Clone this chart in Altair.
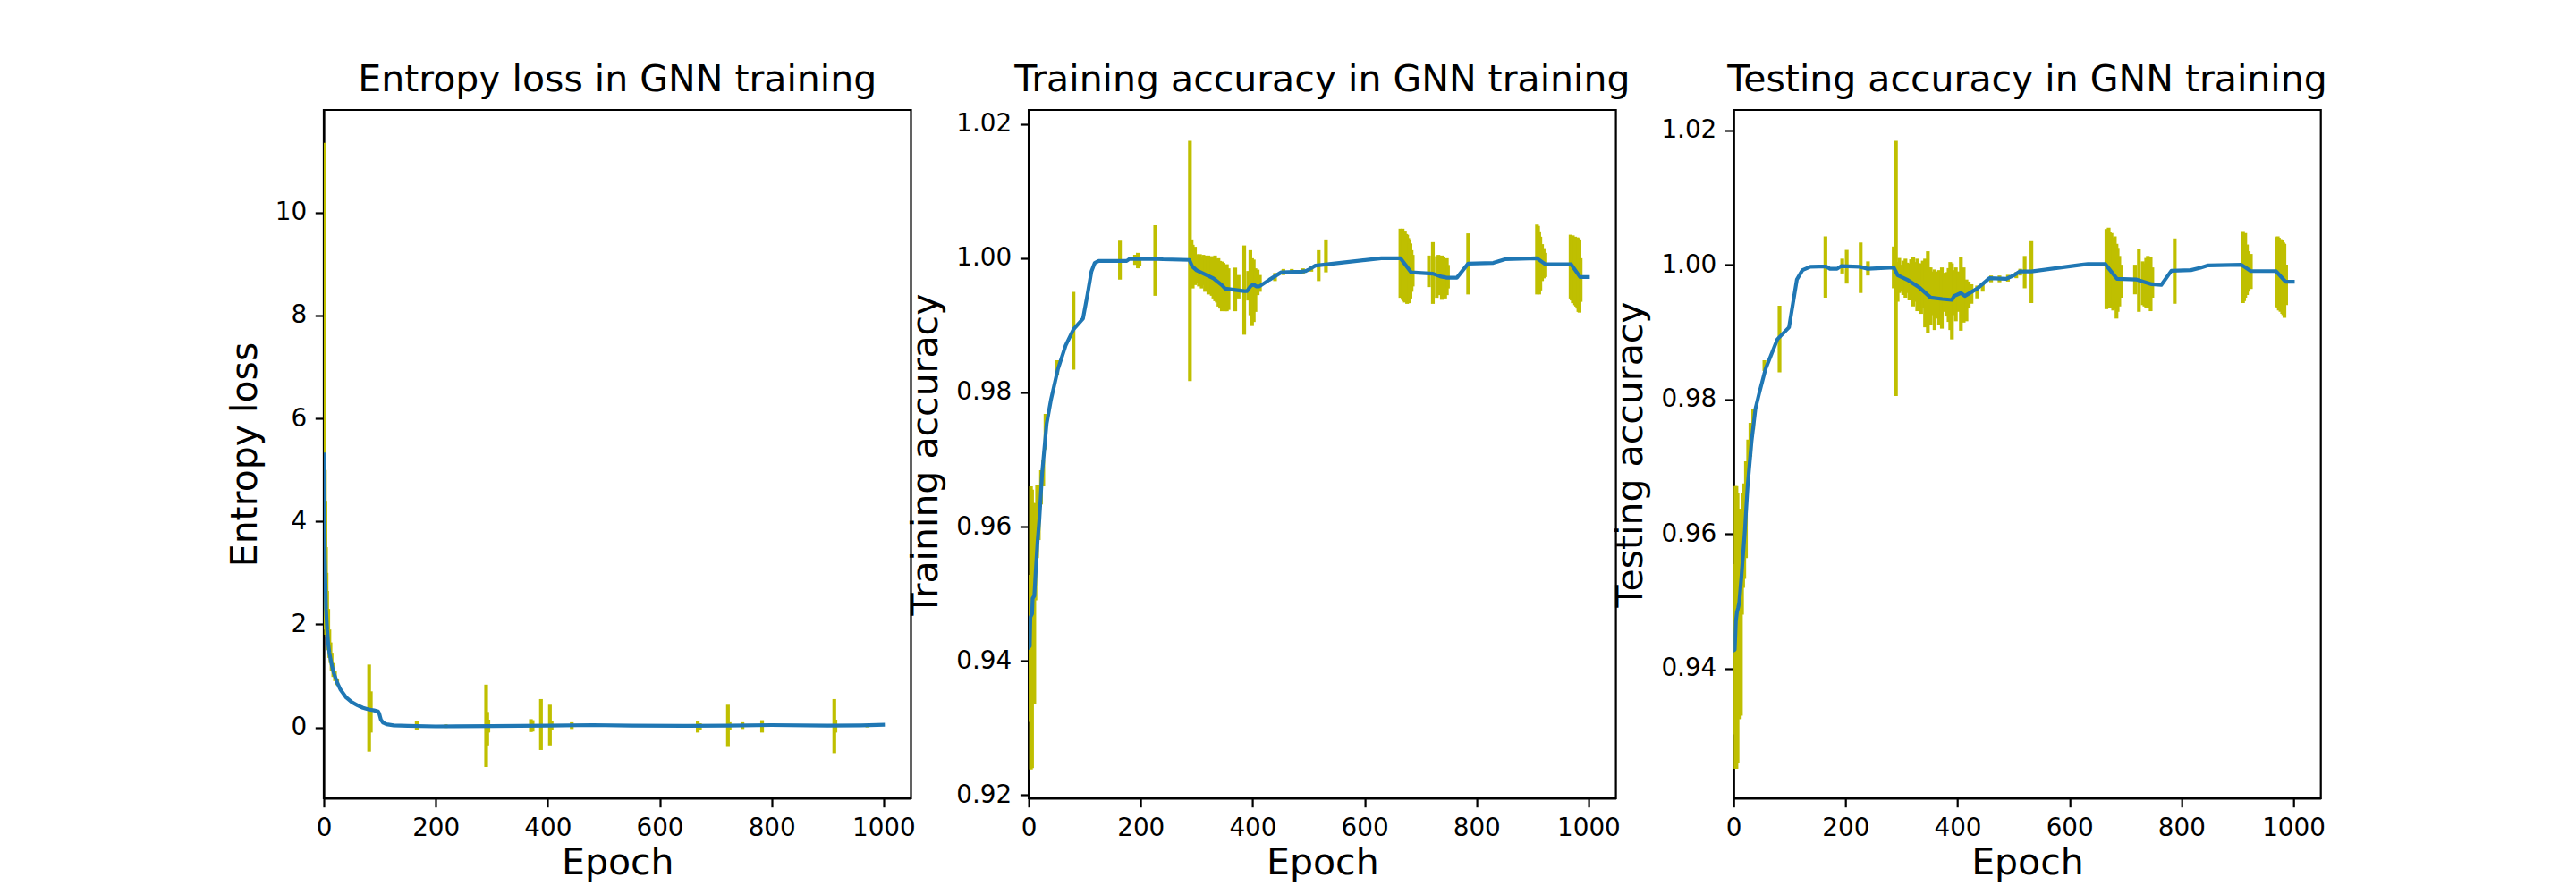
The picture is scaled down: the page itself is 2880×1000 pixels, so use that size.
import altair as alt
import pandas as pd

FONT = "DejaVu Sans"
YEL = "#bfbf00"
BLUE = "#1f77b4"
LW = 4.17

x_ticks = [0, 200, 400, 600, 800, 1000]

# ---------------- Panel 1: entropy loss ----------------
loss_line_epoch = [0, 1, 2, 4, 6, 8, 10, 14, 18, 24, 30, 40, 50, 60, 70, 80, 90, 97, 99, 102,
                   106, 112, 125, 150, 200, 300, 400, 480, 550, 650, 720, 800, 900, 960, 999]
loss_line_value = [5.3, 4.2, 3.3, 2.3, 1.9, 1.62, 1.45, 1.22, 1.05, 0.87, 0.73, 0.58, 0.49, 0.43, 0.38, 0.35, 0.33, 0.31, 0.27, 0.15,
                   0.09, 0.06, 0.04, 0.03, 0.02, 0.025, 0.035, 0.045, 0.035, 0.03, 0.035, 0.045, 0.035, 0.04, 0.05]

loss_spike_epoch = [0, 1, 2, 3, 4, 5, 6, 8, 10, 12, 14, 17, 20, 24,
                    81, 84, 166, 218, 290, 292, 294, 370, 373, 388, 404, 407, 443,
                    668, 672, 722, 725, 748, 783, 912, 914, 971]
loss_spike_hi = [11.35, 7.5, 5.0, 4.4, 3.5, 3.0, 2.65, 2.3, 1.9, 1.65, 1.45, 1.25, 1.1, 0.95,
                 1.22, 0.70, 0.12, 0.06, 0.83, 0.30, 0.15, 0.16, 0.14, 0.55, 0.44, 0.12, 0.10,
                 0.12, 0.08, 0.44, 0.10, 0.10, 0.14, 0.55, 0.15, 0.06]
loss_spike_lo = [4.0, 2.0, 1.9, 2.4, 1.8, 1.9, 1.75, 1.5, 1.35, 1.25, 1.1, 0.98, 0.9, 0.82,
                 -0.47, -0.10, -0.05, -0.01, -0.77, -0.35, -0.10, -0.09, -0.08, -0.44, -0.35, -0.05, -0.03,
                 -0.10, -0.05, -0.38, -0.05, -0.03, -0.10, -0.50, -0.10, 0.00]
loss_ticks = [0, 2, 4, 6, 8, 10]

# ---------------- Panel 2: training accuracy ----------------
tr_line_epoch = [0, 2, 3, 6, 7, 10, 13, 16, 19, 24, 32, 40, 52, 66, 80, 97, 105, 112, 118, 125,
                 175, 180, 230, 240, 287, 292, 300, 330, 345, 351, 385, 390, 396, 401, 407, 412, 430, 451, 487, 495,
                 501, 512, 630, 664, 683, 722, 735, 747, 765, 785, 830, 851, 908, 923, 969, 985, 999]
tr_line_value = [0.9420, 0.9422, 0.9465, 0.9470, 0.9493, 0.9497, 0.9540, 0.9580, 0.9610, 0.9680, 0.9753, 0.9790, 0.9834, 0.9870, 0.9894, 0.9910, 0.9946, 0.9980, 0.9993, 0.9996,
                 0.9996, 0.9999, 0.9999, 0.99985, 0.99975, 0.9988, 0.9982, 0.9970, 0.9960, 0.99546, 0.9951, 0.9951, 0.9958, 0.9961, 0.9958, 0.9958, 0.9968, 0.9979, 0.9980, 0.9981,
                 0.99835, 0.9989, 1.0000, 1.0000, 0.9979, 0.9977, 0.9973, 0.9971, 0.9971, 0.9992, 0.9993, 0.99985, 1.0000, 0.9991, 0.9991, 0.9972, 0.9972]

tr_spike_epoch = [2, 4, 6, 8, 10, 12, 15, 18, 22, 26, 30, 51,
                  80, 163, 190, 195, 198, 226, 288,
                  291, 293, 295, 297, 299, 301, 304, 306, 309, 312, 315, 318, 321, 324, 327, 330, 333, 336, 339, 342, 345, 348, 351, 354, 357,
                  369, 375, 385, 392,
                  396, 399, 402, 405, 409, 413,
                  440, 455, 470, 490, 505,
                  518, 531,
                  664, 666, 668, 670, 672, 674, 676, 678, 680, 682, 684, 686,
                  715, 722,
                  729, 732, 735, 738, 741, 744, 747, 749,
                  785,
                  908, 910, 912, 914, 917, 920, 923,
                  968, 970, 972, 974, 976, 978, 980, 982, 984, 986]
tr_spike_hi = [0.9528, 0.9660, 0.9655, 0.9635, 0.9635, 0.9630, 0.9662, 0.9662, 0.9684, 0.9700, 0.9768, 0.9848,
               0.9950, 1.0026, 1.0005, 1.0008, 1.0002, 1.0049, 1.0175,
               1.0028, 1.0020, 1.0010, 1.0017, 1.0004, 1.0006, 1.0003, 1.0006, 1.0002, 1.0005, 1.0004, 1.0000, 1.0004, 0.9998, 1.0003, 1.0001, 1.0004, 0.9999, 1.0000, 0.9996, 0.9995, 0.9993, 0.9990, 0.9991, 0.9985,
               0.9986, 0.9975, 1.0019, 0.9981,
               1.0012, 1.0000, 0.9998, 0.9985, 0.9983, 0.9975,
               0.9978, 0.9984, 0.9984, 0.9985, 0.9988,
               1.0012, 1.0028,
               1.0044, 1.0043, 1.0044, 1.0040, 1.0041, 1.0036, 1.0035, 1.0030, 1.0028, 1.0022, 1.0012, 1.0005,
               1.0004, 1.0024,
               1.0003, 1.0005, 1.0001, 1.0004, 1.0002, 0.9998, 1.0000, 0.9990,
               1.0037,
               1.0050, 1.0048, 1.0040, 1.0032, 1.0021, 1.0015, 1.0008,
               1.0035, 1.0033, 1.0034, 1.0031, 1.0032, 1.0030, 1.0031, 1.0030, 1.0028, 1.0000]
tr_spike_lo = [0.9309, 0.9238, 0.9240, 0.9336, 0.9336, 0.9490, 0.9553, 0.9580, 0.9633, 0.9660, 0.9715, 0.9826,
               0.9834, 0.9968, 0.9990, 0.9985, 0.9988, 0.9944, 0.9817,
               0.9972, 0.9955, 0.9962, 0.9960, 0.9966, 0.9963, 0.9958, 0.9962, 0.9955, 0.9960, 0.9950, 0.9955, 0.9946, 0.9950, 0.9944, 0.9940, 0.9936, 0.9934, 0.9928, 0.9925, 0.9921, 0.9922, 0.9921, 0.9921, 0.9923,
               0.9921, 0.9940, 0.9886, 0.9937,
               0.9915, 0.9899, 0.9905, 0.9920, 0.9945, 0.9950,
               0.9966, 0.9975, 0.9976, 0.9976, 0.9980,
               0.9966, 0.9979,
               0.9941, 0.9945, 0.9938, 0.9936, 0.9934, 0.9938, 0.9932, 0.9935, 0.9933, 0.9940, 0.9950, 0.9958,
               0.9957, 0.9932,
               0.9941, 0.9950, 0.9945, 0.9938, 0.9945, 0.9940, 0.9945, 0.9955,
               0.9946,
               0.9946, 0.9948, 0.9946, 0.9952, 0.9966, 0.9970, 0.9972,
               0.9940, 0.9937, 0.9933, 0.9935, 0.9930, 0.9928, 0.9925, 0.9920, 0.9919, 0.9935]
tr_ticks = [0.92, 0.94, 0.96, 0.98, 1.00, 1.02]

# ---------------- Panel 3: testing accuracy ----------------
te_line_epoch = [0, 2, 4, 6, 8, 10, 14, 20, 25, 32, 39, 46, 57, 78, 99, 113, 123, 137, 165, 172,
                 185, 192, 225, 240, 286, 293, 310, 331, 352, 373, 390, 394, 406, 413, 435, 457, 487, 501, 511, 532,
                 622, 633, 664, 685, 720, 747, 764, 782, 817, 834, 848, 907, 924, 969, 986, 999]
te_line_value = [0.9427, 0.9428, 0.9470, 0.9484, 0.9490, 0.9498, 0.9537, 0.9604, 0.9671, 0.9737, 0.9786, 0.9810, 0.9845, 0.9889, 0.9907, 0.9978, 0.9992, 0.9997, 0.99975, 0.9994,
                 0.9994, 0.9998, 0.9997, 0.9994, 0.9996, 0.99845, 0.99778, 0.99667, 0.99512, 0.9949, 0.99477, 0.99535, 0.9958, 0.99535, 0.99645, 0.9980, 0.9979, 0.99845, 0.9990, 0.9990,
                 1.0000, 1.0001, 1.0001, 0.9979, 0.9978, 0.9971, 0.9970, 0.9991, 0.9992, 0.99955, 0.9999, 1.0000, 0.99905, 0.99905, 0.99747, 0.99747]

te_spike_epoch = [1, 3, 5, 7, 9, 11, 13, 15, 17, 19, 22, 26, 30, 35,
                  55, 82, 164, 194, 202, 227, 240, 290,
                  286, 293, 296, 300, 303, 307, 310, 314, 317, 321, 324, 328, 331, 335, 338, 342, 345, 347, 350, 352,
                  356, 359, 363, 367, 372, 376, 380, 384, 387, 390, 394, 397, 401, 406, 409, 411, 416, 420, 425, 435,
                  445, 460, 475, 490, 505, 512,
                  520, 532,
                  666, 668, 670, 672, 675, 678, 681, 684, 686, 689, 692,
                  717, 724,
                  731, 734, 737, 740, 742, 745, 748,
                  788,
                  910, 912, 914, 917, 920, 924,
                  970, 972, 974, 977, 980, 982, 984, 987]
te_spike_hi = [0.9555, 0.9671, 0.9671, 0.9660, 0.9637, 0.9637, 0.9630, 0.9620, 0.9660, 0.9675, 0.9708, 0.9740, 0.9765, 0.9785,
               0.9858, 0.9939, 1.0042, 1.0009, 1.0022, 1.0033, 1.0005, 1.0184,
               1.0027, 1.0004, 1.0010, 1.0000, 1.0006, 1.0009, 1.0003, 1.0002, 1.0008, 1.0011, 1.0004, 1.0009, 1.0002, 1.0002, 1.0006, 1.0009, 1.0000, 1.0020, 0.9996, 0.9996,
               0.9990, 0.9993, 0.9990, 0.9992, 0.9996, 0.9988, 0.9989, 0.9995, 1.0004, 1.0002, 0.9992, 0.9996, 0.9990, 1.0011, 0.9990, 0.9996, 0.9978, 0.9975, 0.9971, 0.9969,
               0.9973, 0.9984, 0.9984, 0.9985, 0.9989, 0.9994,
               1.0013, 1.0035,
               1.0053, 1.0045, 1.0055, 1.0048, 1.0047, 1.0040, 1.0042, 1.0031, 1.0025, 1.0013, 1.0000,
               1.0000, 1.0024,
               1.0005, 1.0002, 1.0010, 1.0013, 1.0008, 1.0012, 0.9996,
               1.0039,
               1.0050, 1.0046, 1.0047, 1.0030, 1.0020, 1.0016,
               1.0041, 1.0042, 1.0040, 1.0038, 1.0036, 1.0033, 1.0031, 1.0000]
te_spike_lo = [0.9302, 0.9251, 0.9251, 0.9260, 0.9325, 0.9325, 0.9330, 0.9480, 0.9520, 0.9533, 0.9564, 0.9690, 0.9715, 0.9755,
               0.9842, 0.9840, 0.9951, 0.9987, 0.9972, 0.9958, 0.9984, 0.9805,
               0.9965, 0.9945, 0.9958, 0.9960, 0.9955, 0.9951, 0.9958, 0.9947, 0.9950, 0.9938, 0.9945, 0.9931, 0.9940, 0.9927, 0.9935, 0.9907, 0.9920, 0.9898, 0.9915, 0.9911,
               0.9925, 0.9903, 0.9920, 0.9910, 0.9905, 0.9930, 0.9923, 0.9915, 0.9903, 0.9889, 0.9925, 0.9916, 0.9930, 0.9902, 0.9925, 0.9914, 0.9916, 0.9935, 0.9942, 0.9950,
               0.9960, 0.9974, 0.9974, 0.9975, 0.9980, 0.9984,
               0.9965, 0.9943,
               0.9934, 0.9940, 0.9938, 0.9936, 0.9936, 0.9932, 0.9934, 0.9920, 0.9930, 0.9938, 0.9951,
               0.9956, 0.9930,
               0.9940, 0.9938, 0.9936, 0.9942, 0.9935, 0.9931, 0.9951,
               0.9942,
               0.9943, 0.9946, 0.9951, 0.9955, 0.9960, 0.9964,
               0.9937, 0.9936, 0.9932, 0.9930, 0.9927, 0.9925, 0.9921, 0.9940]
te_ticks = [0.94, 0.96, 0.98, 1.00, 1.02]


def panel(title, ytitle, line_e, line_v, sp_e, sp_hi, sp_lo, ydom, yticks, yfmt):
    line_df = pd.DataFrame({"epoch": line_e, "value": line_v})
    sp_df = pd.DataFrame({"epoch": sp_e, "value": sp_hi, "lo": sp_lo})
    x = alt.X("epoch:Q",
              scale=alt.Scale(domain=[0, 1049], nice=False, zero=False),
              axis=alt.Axis(title="Epoch", values=x_ticks, format="d"))
    y = alt.Y("value:Q",
              scale=alt.Scale(domain=ydom, nice=False, zero=False),
              axis=alt.Axis(title=ytitle, values=yticks, format=yfmt))
    spikes = alt.Chart(sp_df).mark_rule(color=YEL, strokeWidth=LW, clip=True).encode(
        x=x, y=y, y2="lo:Q")
    line = alt.Chart(line_df).mark_line(
        color=BLUE, strokeWidth=LW, clip=True, strokeJoin="round", strokeCap="square"
    ).encode(x=x, y=y)
    return alt.layer(spikes, line).properties(
        width=656.5, height=770,
        title=alt.TitleParams(title, font=FONT, fontSize=41, fontWeight="normal",
                              color="black", anchor="middle", baseline="bottom",
                              offset=-29),
    )


p1 = panel("Entropy loss in GNN training", "Entropy loss",
           loss_line_epoch, loss_line_value, loss_spike_epoch, loss_spike_hi, loss_spike_lo,
           [-1.378, 11.99], loss_ticks, "d")
p2 = panel("Training accuracy in GNN training", "Training accuracy",
           tr_line_epoch, tr_line_value, tr_spike_epoch, tr_spike_hi, tr_spike_lo,
           [0.9195, 1.0221], tr_ticks, ".2f")
p3 = panel("Testing accuracy in GNN training", "Testing accuracy",
           te_line_epoch, te_line_value, te_spike_epoch, te_spike_hi, te_spike_lo,
           [0.9207, 1.0230], te_ticks, ".2f")

chart = alt.hconcat(p1, p2, p3, spacing=131.1, bounds="flush").properties(
    padding={"left": 244, "top": 59, "right": 10, "bottom": 0}
).configure_view(
    stroke="black", strokeWidth=2.22
).configure_axis(
    labelFont=FONT, labelFontSize=27.8, labelColor="black",
    titleFont=FONT, titleFontSize=41, titleFontWeight="normal", titleColor="black",
    tickSize=9.7, tickWidth=2.22, tickColor="black",
    domainColor="black", domainWidth=2.22,
    labelPadding=9.7, grid=False, labelFlush=False, labelOverlap=False, labelBound=False,
).configure_axisX(
    titlePadding=5.5
).configure_axisY(
    titlePadding=12
)

chart.save("out.html", embed_options={"renderer": "svg", "actions": False})
